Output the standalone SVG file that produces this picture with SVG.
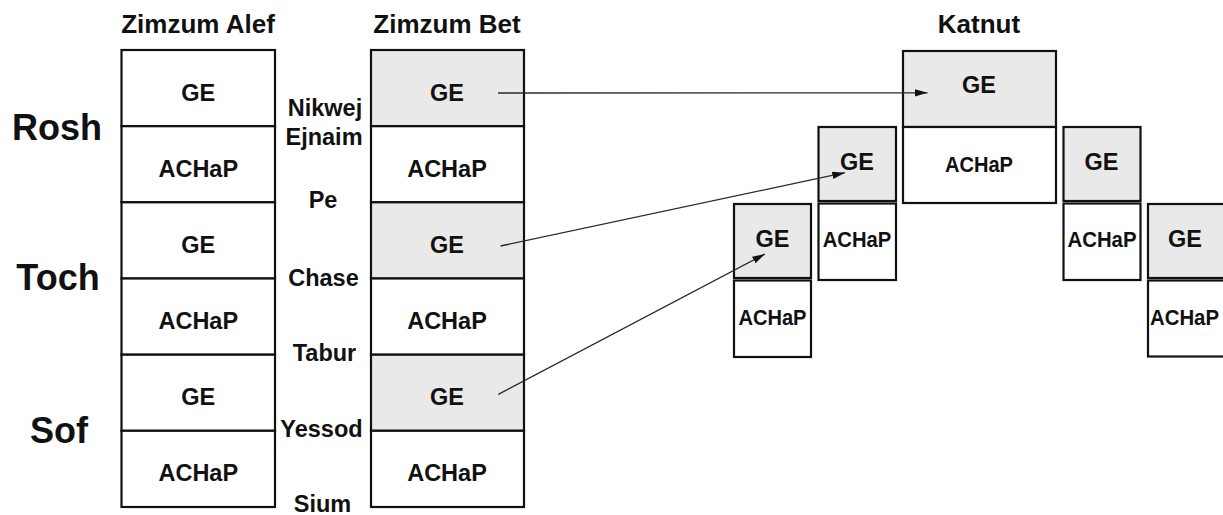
<svg xmlns="http://www.w3.org/2000/svg" width="1223" height="515" viewBox="0 0 1223 515">
<style>
text{font-family:"Liberation Sans",Arial,Helvetica,sans-serif;font-weight:bold;fill:#111;text-anchor:middle}
.title{font-size:26px}
.side{font-size:36px}
.mid{font-size:23.5px}
.cell{font-size:23.5px}
.sm{font-size:22px}
.box{fill:#fff;stroke:#111;stroke-width:2.2}
.gray{fill:#e9e9e9;stroke:#111;stroke-width:2.2}
.conn{stroke:#2a2a2a;stroke-width:1.3;fill:none;marker-end:url(#arr)}
</style>
<defs>
<marker id="arr" markerUnits="userSpaceOnUse" markerWidth="14" markerHeight="9" refX="12.7" refY="3.7" orient="auto">
<path d="M0,0 L12.7,3.7 L0,7.4 z" fill="#111"/>
</marker>
</defs>
<rect width="1223" height="515" fill="#fff"/>

<g id="titles">
<text class="title" x="198" y="33">Zimzum Alef</text>
<text class="title" x="447" y="33">Zimzum Bet</text>
<text class="title" x="979" y="33">Katnut</text>
</g>

<g id="side-labels">
<text class="side" x="57" y="140">Rosh</text>
<text class="side" x="58" y="290">Toch</text>
<text class="side" x="59" y="443">Sof</text>
</g>

<g id="mid-labels">
<text class="mid" x="325" y="116">Nikwej</text>
<text class="mid" x="324" y="145">Ejnaim</text>
<text class="mid" x="323" y="208">Pe</text>
<text class="mid" x="323.5" y="286">Chase</text>
<text class="mid" x="324.5" y="361">Tabur</text>
<text class="mid" x="321.5" y="437">Yessod</text>
<text class="mid" x="322.5" y="511.5">Sium</text>
</g>

<g id="alef">
<rect class="box" x="121.5" y="50" width="153.5" height="76.2"/>
<rect class="box" x="121.5" y="126.2" width="153.5" height="76.1"/>
<rect class="box" x="121.5" y="202.3" width="153.5" height="76.2"/>
<rect class="box" x="121.5" y="278.5" width="153.5" height="76.2"/>
<rect class="box" x="121.5" y="354.7" width="153.5" height="76.1"/>
<rect class="box" x="121.5" y="430.8" width="153.5" height="76.2"/>
<text class="cell" x="198.3" y="100.7">GE</text>
<text class="cell" x="198.3" y="176.8">ACHaP</text>
<text class="cell" x="198.3" y="252.9">GE</text>
<text class="cell" x="198.3" y="329.1">ACHaP</text>
<text class="cell" x="198.3" y="405.3">GE</text>
<text class="cell" x="198.3" y="481.4">ACHaP</text>
</g>

<g id="bet">
<rect class="gray" x="371" y="50" width="153" height="76.2"/>
<rect class="box" x="371" y="126.2" width="153" height="76.1"/>
<rect class="gray" x="371" y="202.3" width="153" height="76.2"/>
<rect class="box" x="371" y="278.5" width="153" height="76.2"/>
<rect class="gray" x="371" y="354.7" width="153" height="76.1"/>
<rect class="box" x="371" y="430.8" width="153" height="76.2"/>
<text class="cell" x="447" y="100.7">GE</text>
<text class="cell" x="447" y="176.8">ACHaP</text>
<text class="cell" x="447" y="252.9">GE</text>
<text class="cell" x="447" y="329.1">ACHaP</text>
<text class="cell" x="447" y="405.3">GE</text>
<text class="cell" x="447" y="481.4">ACHaP</text>
</g>

<g id="katnut-main">
<rect class="gray" x="903" y="51" width="153" height="76"/>
<rect class="box" x="903" y="127" width="153" height="76"/>
<text class="cell" x="979" y="93.3">GE</text>
<text class="sm" x="979" y="171.7" textLength="68" lengthAdjust="spacingAndGlyphs">ACHaP</text>
</g>

<g id="katnut-left1">
<rect class="gray" x="818.5" y="127" width="77.5" height="74"/>
<rect class="box" x="818.5" y="203.5" width="77.5" height="76.5"/>
<text class="cell" x="857" y="170">GE</text>
<text class="sm" x="857" y="247.3" textLength="68.5" lengthAdjust="spacingAndGlyphs">ACHaP</text>
</g>

<g id="katnut-left2">
<rect class="gray" x="734" y="204" width="77" height="74"/>
<rect class="box" x="734" y="280.5" width="77" height="76.5"/>
<text class="cell" x="772.5" y="246.7">GE</text>
<text class="sm" x="772.5" y="325" textLength="68" lengthAdjust="spacingAndGlyphs">ACHaP</text>
</g>

<g id="katnut-right1">
<rect class="gray" x="1063.5" y="127" width="77" height="74"/>
<rect class="box" x="1063.5" y="203.5" width="77" height="76.5"/>
<text class="cell" x="1101.5" y="170">GE</text>
<text class="sm" x="1102" y="247.3" textLength="69" lengthAdjust="spacingAndGlyphs">ACHaP</text>
</g>

<g id="katnut-right2">
<rect class="gray" x="1148" y="204" width="77" height="74"/>
<rect class="box" x="1148" y="280.5" width="77" height="76"/>
<text class="cell" x="1185" y="246.7">GE</text>
<text class="sm" x="1184.5" y="325" textLength="69" lengthAdjust="spacingAndGlyphs">ACHaP</text>
</g>

<g id="connectors">
<line class="conn" x1="498" y1="93" x2="927.5" y2="92.8"/>
<line class="conn" x1="500.5" y1="246" x2="845" y2="172.7"/>
<line class="conn" x1="498.3" y1="394.3" x2="765" y2="254"/>
</g>
</svg>
